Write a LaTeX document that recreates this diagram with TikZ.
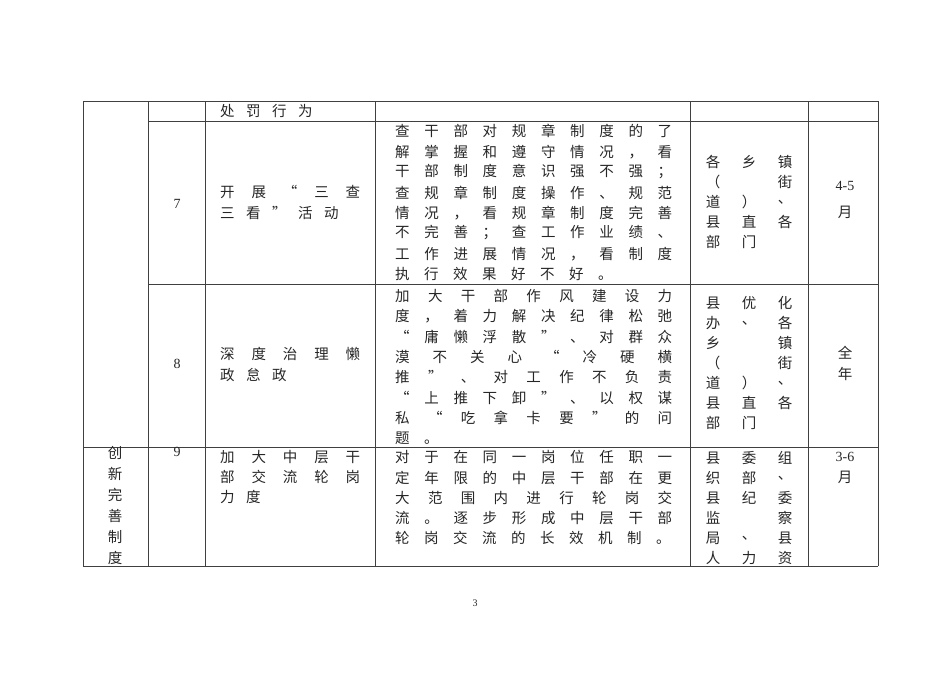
\documentclass[tikz,border=0pt]{standalone}
\usepackage{fontspec}
\setmainfont{Liberation Serif}
\newfontfamily\cjk{Noto Sans CJK SC}
\def\jlrest#1{\ifx#1\endjl\else\hfill#1\expandafter\jlrest\fi}
\def\jl#1#2\endjl{#1\jlrest#2\endjl}
\newlength\pitch
\def\plrest#1{\ifx#1\endjl\else\makebox[\pitch][l]{#1}\expandafter\plrest\fi}
\def\pl#1\endjl{\plrest#1\endjl}
\newcommand\Jl[4]{\node[txt] at (#1,#2) {\makebox[#3pt][s]{\jl#4\endjl}};}
\newcommand\Pl[4]{\node[txt] at (#1,#2) {\setlength\pitch{#3pt}\pl#4\endjl};}
\newcommand\Gc[3]{\node[txt,anchor=center] at (#1,#2) {#3};}
\begin{document}
\begin{tikzpicture}[x=1pt,y=-1pt,
  txt/.style={anchor=west,inner sep=0pt,font=\cjk\fontsize{14.5}{14.5}\selectfont,text=black!85},
  num/.style={inner sep=0pt,font=\fontsize{14}{14}\selectfont,text=black!85},
  rule/.style={draw=black!75,line width=0.8pt}]
\useasboundingbox (0,0) rectangle (950,673);
% grid
\draw[rule] (83,101) -- (878,101);
\draw[rule] (148,121) -- (878,121);
\draw[rule] (148,284) -- (878,284);
\draw[rule] (83,447) -- (878,447);
\draw[rule] (83,566) -- (878,566);
\foreach \x in {83,148,205,375,690,808,878} \draw[rule] (\x,101) -- (\x,566);
% col 2 numbers
\node[num] (n7) at (177,204) {7};
\node[num] (n8) at (177,364) {8};
\node[num] (n9) at (177,452) {9};
% col 1
\foreach \c [count=\i from 0] in {创,新,完,善,制,度}
  \node[txt,anchor=center] at (115,453+21*\i) {\c};
% col 3
\Pl{220}{111}{26}{处罚行为}
\Jl{220}{192}{140}{开展“三查}
\Pl{220}{213}{26}{三看”活动}
\Jl{220}{354}{140}{深度治理懒}
\Pl{220}{375}{26}{政怠政}
\Jl{220}{457}{140}{加大中层干}
\Jl{220}{477}{140}{部交流轮岗}
\Pl{220}{497}{26}{力度}
% col 4
\Jl{395}{131}{277}{查干部对规章制度的了}
\Jl{395}{152}{277}{解掌握和遵守情况，看}
\Jl{395}{172}{277}{干部制度意识强不强；}
\Jl{395}{193}{277}{查规章制度操作、规范}
\Jl{395}{213}{277}{情况，看规章制度完善}
\Jl{395}{233}{277}{不完善；查工作业绩、}
\Jl{395}{254}{277}{工作进展情况，看制度}
\Pl{395}{274}{29}{执行效果好不好。}
\Jl{395}{296}{277}{加大干部作风建设力}
\Jl{395}{316}{277}{度，着力解决纪律松弛}
\Jl{395}{337}{277}{“庸懒浮散”、对群众}
\Jl{395}{357}{277}{漠不关心“冷硬横}
\Jl{395}{377}{277}{推”、对工作不负责}
\Jl{395}{398}{277}{“上推下卸”、以权谋}
\Jl{395}{418}{277}{私“吃拿卡要”的问}
\Pl{395}{438}{29}{题。}
\Jl{395}{457}{277}{对于在同一岗位任职一}
\Jl{395}{478}{277}{定年限的中层干部在更}
\Jl{395}{498}{277}{大范围内进行轮岗交}
\Jl{395}{518}{277}{流。逐步形成中层干部}
\Pl{395}{538}{29}{轮岗交流的长效机制。}
% col 5
\foreach \a/\b/\c [count=\i from 0] in {各/乡/镇,（/ /街,道/）/、,县/直/各,部/门/ }{
  \Gc{713}{162+20*\i}{\a}\Gc{749}{162+20*\i}{\b}\Gc{785}{162+20*\i}{\c}}
\foreach \a/\b/\c [count=\i from 0] in {县/优/化,办/、/各,乡/ /镇,（/ /街,道/）/、,县/直/各,部/门/ }{
  \Gc{713}{303+20*\i}{\a}\Gc{749}{303+20*\i}{\b}\Gc{785}{303+20*\i}{\c}}
\foreach \a/\b/\c [count=\i from 0] in {县/委/组,织/部/、,县/纪/委,监/ /察,局/、/县,人/力/资}{
  \Gc{713}{458+20*\i}{\a}\Gc{749}{458+20*\i}{\b}\Gc{785}{458+20*\i}{\c}}
% col 6
\node[num] at (845,186) {4-5};
\node[txt,anchor=center] at (845,212) {月};
\node[txt,anchor=center] at (845,353) {全};
\node[txt,anchor=center] at (845,374) {年};
\node[num] at (845,457) {3-6};
\node[txt,anchor=center] at (845,477) {月};
\node[num,font=\fontsize{10}{10}\selectfont] at (475,603) {3};
\end{tikzpicture}
\end{document}
